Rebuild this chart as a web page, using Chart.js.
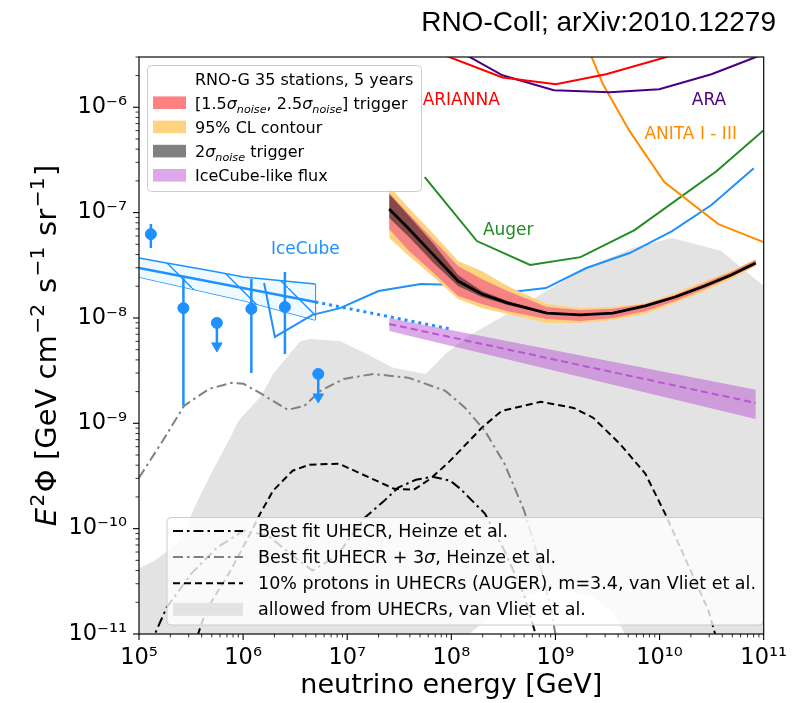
<!DOCTYPE html>
<html lang="en">
<head>
    <meta charset="UTF-8">
    <title>RNO-G diffuse flux sensitivity</title>
    <script src="https://cdn.jsdelivr.net/npm/chart.js"></script>
    <style>
        body { margin: 0; background: #ffffff; }
        .chart-box { width: 798px; height: 703px; }
    </style>
</head>
<body>
    <div class="chart-box"><canvas id="fluxChart"></canvas></div>
    <script>
        // Tick labels (decades)
        const xTickLabels = ['10⁵', '10⁶', '10⁷', '10⁸', '10⁹', '10¹⁰', '10¹¹'];
        const yTickLabels = ['10⁻¹¹', '10⁻¹⁰', '10⁻⁹', '10⁻⁸', '10⁻⁷', '10⁻⁶'];

        // Existing limits, E [GeV] / E^2 flux [GeV cm^-2 s^-1 sr^-1]
        const ariannaE = [5.1e7, 3.1e8, 1.01e9, 3.06e9, 1.06e10, 2.04e10];
        const ariannaF = [3.8e-6, 1.92e-6, 1.65e-6, 2.06e-6, 2.92e-6, 3.55e-6];
        const araE = [9.77e7, 3.1e8, 9.64e8, 3.33e9, 9.93e9, 3.15e10, 7.87e10, 1.16e11];
        const araF = [3.8e-6, 2.01e-6, 1.45e-6, 1.39e-6, 1.48e-6, 2.06e-6, 2.92e-6, 3.39e-6];
        const anitaE = [2.02e9, 2.86e9, 5.16e9, 1.11e10, 3.67e10, 1e11];
        const anitaF = [3.8e-6, 1.65e-6, 5.93e-7, 1.95e-7, 7.78e-8, 5.25e-8];
        const augerE = [5.55e7, 1.76e8, 5.71e8, 1.74e9, 5.75e9, 3.52e10, 1e11];
        const augerF = [2.17e-7, 5.37e-8, 3.18e-8, 3.78e-8, 6.82e-8, 2.47e-7, 6.05e-7];
        const icEheE = [1.59e6, 2.02e6, 4.63e6, 8.53e6, 2.0e7, 5.09e7, 1.27e8, 3.11e8, 8.09e8, 1.98e9, 5.16e9, 1.32e10, 3.15e10, 8.04e10];
        const icEheF = [2.15e-8, 6.61e-9, 1.07e-8, 1.24e-8, 1.8e-8, 2.1e-8, 2.05e-8, 1.73e-8, 1.92e-8, 2.98e-8, 4.13e-8, 6.68e-8, 1.18e-7, 2.64e-7];

        // IceCube diffuse fit (butterfly)
        const bflyTopE = [1e5, 1.84e5, 5.01e5, 1.01e6, 4.94e6];
        const bflyTopF = [3.71e-8, 3.32e-8, 2.79e-8, 2.45e-8, 2.1e-8];
        const bflyLowE = [1e5, 1.05e6, 4.94e6];
        const bflyLowF = [2.45e-8, 1.45e-8, 9.58e-9];
        const bflyBestE = [1e5, 4.94e6];
        const bflyBestF = [2.98e-8, 1.42e-8];
        const bflyExtE = [4.94e6, 9.77e7];
        const bflyExtF = [1.42e-8, 7.87e-9];

        // IceCube unfolded points and upper limits
        const icPointE = [1.30e5, 2.67e5, 1.20e6, 2.52e6];
        const icPointF = [6.25e-8, 1.24e-8, 1.22e-8, 1.27e-8];
        const icErrHi = [7.78e-8, 2.39e-8, 2.34e-8, 2.73e-8];
        const icErrLo = [4.61e-8, 1.47e-9, 3.01e-9, 4.56e-9];
        const icUlE = [5.60e5, 5.27e6];
        const icUlF = [8.97e-9, 2.94e-9];
        const icUlArrowF = [5.43e-9, 1.78e-9];

        // RNO-G 35 stations, 5 years
        const rnoE = [2.53e7, 3.92e7, 6.76e7, 1.16e8, 1.96e8, 3.46e8, 8.27e8, 1.74e9, 3.57e9, 7.31e9, 1.41e10, 2.70e10, 4.87e10, 8.39e10];
        const rnoF = [1.08e-7, 6.98e-8, 3.95e-8, 2.24e-8, 1.69e-8, 1.39e-8, 1.11e-8, 1.07e-8, 1.11e-8, 1.30e-8, 1.58e-8, 2.01e-8, 2.56e-8, 3.32e-8];
        const clTopF = [1.78e-7, 1.10e-7, 6.25e-8, 3.47e-8, 2.79e-8, 2.01e-8, 1.36e-8, 1.24e-8, 1.27e-8, 1.39e-8, 1.73e-8, 2.24e-8, 2.79e-8, 3.62e-8];
        const clLowF = [5.73e-8, 3.87e-8, 2.45e-8, 1.51e-8, 1.24e-8, 1.09e-8, 8.97e-9, 8.97e-9, 9.58e-9, 1.09e-8, 1.39e-8, 1.80e-8, 2.34e-8, 3.11e-8];
        const trigTopF = [1.53e-7, 9.67e-8, 5.48e-8, 3.11e-8, 2.34e-8, 1.80e-8, 1.27e-8, 1.19e-8, 1.22e-8, 1.36e-8, 1.65e-8, 2.15e-8, 2.73e-8, 3.55e-8];
        const trigLowF = [6.98e-8, 4.31e-8, 2.67e-8, 1.62e-8, 1.36e-8, 1.16e-8, 9.79e-9, 9.37e-9, 1.0e-8, 1.16e-8, 1.45e-8, 1.88e-8, 2.45e-8, 3.18e-8];
        const sig2TopF = [1.50e-7, 9.27e-8, 5.03e-8, 2.56e-8, 1.80e-8, 1.45e-8, 1.13e-8];
        const sig2LowF = [8.87e-8, 5.86e-8, 3.32e-8, 2.01e-8, 1.58e-8, 1.33e-8, 1.09e-8];

        // IceCube-like flux
        const icLikeE = [2.53e7, 8.39e10];
        const icLikeF = [8.77e-9, 1.56e-9];
        const icLikeTopF = [1.0e-8, 2.08e-9];
        const icLikeLowF = [7.53e-9, 1.10e-9];

        // UHECR models
        const bestFitE = [1.27e5, 1.84e5, 3.18e5, 5.60e5, 1.01e6, 1.74e6, 2.99e6, 4.63e6, 7.98e6, 1.47e7, 2.27e7, 3.08e7, 4.56e7, 6.61e7, 9.77e7, 1.22e8, 2.10e8, 3.24e8, 5.01e8, 6.95e8];
        const bestFitF = [7.8e-12, 1.78e-11, 3.74e-11, 6.61e-11, 9.57e-11, 8.59e-11, 5.55e-11, 4.0e-11, 5.55e-11, 1.27e-10, 1.84e-10, 2.45e-10, 2.91e-10, 3.11e-10, 2.85e-10, 2.39e-10, 1.39e-10, 6.18e-11, 2.32e-11, 7.8e-12];
        const bestFit3sE = [1e5, 1.69e5, 2.72e5, 4.70e5, 7.76e5, 1.01e6, 1.49e6, 2.69e6, 3.89e6, 5.51e6, 9.29e6, 1.79e7, 3.92e7, 8.77e7, 1.36e8, 2.10e8, 3.24e8, 5.01e8, 6.95e8, 8.65e8, 1.05e9];
        const bestFit3sF = [3.04e-10, 6.82e-10, 1.47e-9, 2.12e-9, 2.42e-9, 2.37e-9, 1.91e-9, 1.34e-9, 1.47e-9, 2.03e-9, 2.64e-9, 2.94e-9, 2.70e-9, 2.03e-9, 1.40e-9, 8.49e-10, 4.13e-10, 1.48e-10, 4.98e-11, 2.08e-11, 7.8e-12];
        const protonE = [3.39e5, 4.41e5, 7.59e5, 1.25e6, 1.46e6, 1.94e6, 2.99e6, 4.34e6, 8.34e6, 1.29e7, 2.82e7, 4.37e7, 6.32e7, 9.77e7, 1.96e8, 3.04e8, 7.26e8, 1.49e9, 2.30e9, 4.15e9, 7.31e9, 1.13e10, 1.75e10, 2.95e10, 3.67e10];
        const protonF = [7.8e-12, 1.67e-11, 4.0e-11, 1.02e-10, 1.39e-10, 2.29e-10, 3.55e-10, 4.05e-10, 4.13e-10, 3.40e-10, 2.39e-10, 2.34e-10, 2.98e-10, 4.42e-10, 9.06e-10, 1.31e-9, 1.60e-9, 1.40e-9, 1.13e-9, 6.40e-10, 3.32e-10, 1.39e-10, 5.31e-11, 1.67e-11, 7.8e-12];
        const allowedUpE = [1e5, 1.42e5, 2.55e5, 3.39e5, 4.91e5, 7.26e5, 9.04e5, 1.49e6, 1.94e6, 2.69e6, 3.56e6, 4.44e6, 8.53e6, 1.53e7, 2.77e7, 5.68e7, 8.77e7, 1.36e8, 5.01e8, 1.98e9, 5.51e9, 1.32e10, 3.92e10, 1e11];
        const allowedUpF = [4.18e-11, 4.98e-11, 7.69e-11, 1.58e-10, 3.32e-10, 6.82e-10, 1.06e-9, 1.82e-9, 2.94e-9, 4.36e-9, 6.05e-9, 6.32e-9, 6.05e-9, 4.56e-9, 3.36e-9, 2.94e-9, 4.56e-9, 6.46e-9, 1.36e-8, 2.98e-8, 4.61e-8, 5.73e-8, 4.31e-8, 2.01e-8];
        const allowedLowE = [1e5, 1.10e8, 1.51e8, 2.61e8, 5.01e8, 1.12e9, 2.31e9, 3.57e9, 4.62e9, 5.5e9, 1e11];
        const allowedLowF = [5e-12, 5e-12, 1.01e-11, 1.60e-11, 2.32e-11, 2.70e-11, 2.22e-11, 1.60e-11, 1.01e-11, 5e-12, 5e-12];

        Chart.defaults.font.family = '"DejaVu Sans"';

        const BLUE = '#1e90ff';
        const pts = (xs, ys) => xs.map((x, i) => ({ x: x, y: ys[i] }));
        const none = 'rgba(0,0,0,0)';

        function line(data, color, width, extra) {
            return Object.assign({ data: data, borderColor: color, borderWidth: width, pointRadius: 0, fill: false }, extra || {});
        }
        function band(data, color, order) {
            return { data: data, borderColor: none, borderWidth: 0, pointRadius: 0, fill: '+1', backgroundColor: color, order: order };
        }
        function edge(data, order) {
            return { data: data, borderColor: none, borderWidth: 0, pointRadius: 0, fill: false, order: order };
        }

        // hatch for the IceCube butterfly
        function makeHatch() {
            const c = document.createElement('canvas');
            c.width = 48; c.height = 48;
            const g = c.getContext('2d');
            g.fillStyle = '#eefaff';
            g.fillRect(0, 0, 48, 48);
            g.strokeStyle = BLUE;
            g.lineWidth = 1.4;
            g.beginPath();
            g.moveTo(-3, -3);
            g.lineTo(51, 51);
            g.stroke();
            return g.createPattern(c, 'repeat');
        }

        const dashDot = [10, 4, 2.5, 4];
        const lastTop = bflyTopE.length - 1, lastLow = bflyLowE.length - 1;

        const datasets = [
            // allowed region
            band(pts(allowedUpE, allowedUpF), '#e3e3e3', 50),
            edge(pts(allowedLowE, allowedLowF), 51),
            // UHECR models
            line(pts(bestFitE, bestFitF), '#000000', 2, { borderDash: dashDot, order: 40 }),
            line(pts(bestFit3sE, bestFit3sF), '#808080', 2, { borderDash: dashDot, order: 40 }),
            line(pts(protonE, protonF), '#000000', 2, { borderDash: [7, 4], order: 40 }),
            // IceCube butterfly
            line(pts(bflyTopE, bflyTopF), BLUE, 1.5, { fill: '+1', backgroundColor: makeHatch(), order: 30 }),
            line(pts(bflyLowE, bflyLowF), BLUE, 1.5, { order: 31 }),
            line([{ x: bflyTopE[lastTop], y: bflyTopF[lastTop] }, { x: bflyLowE[lastLow], y: bflyLowF[lastLow] }], BLUE, 1.5, { order: 30 }),
            line(pts(bflyBestE, bflyBestF), BLUE, 2.5, { order: 29 }),
            line(pts(bflyExtE, bflyExtF), BLUE, 3, { borderDash: [3, 4], order: 29 }),
            line(pts(icEheE, icEheF), BLUE, 2, { order: 29 }),
            // other experiments
            line(pts(ariannaE, ariannaF), '#ff0000', 2, { order: 20 }),
            line(pts(araE, araF), '#4b0082', 2, { order: 20 }),
            line(pts(anitaE, anitaF), '#ff8c00', 2, { order: 20 }),
            line(pts(augerE, augerF), '#228b22', 2, { order: 20 }),
            // IceCube-like flux
            band(pts(icLikeE, icLikeTopF), 'rgba(186,85,211,0.5)', 15),
            edge(pts(icLikeE, icLikeLowF), 16),
            line(pts(icLikeE, icLikeF), '#ba55d3', 2, { borderDash: [7, 4], order: 14 }),
            // RNO-G bands
            band(pts(rnoE, clTopF), '#ffd280', 12),
            edge(pts(rnoE, clLowF), 13),
            band(pts(rnoE, trigTopF), '#f58383', 10),
            edge(pts(rnoE, trigLowF), 11),
            band(pts(rnoE.slice(0, sig2TopF.length), sig2TopF), 'rgba(0,0,0,0.45)', 8),
            edge(pts(rnoE.slice(0, sig2LowF.length), sig2LowF), 9),
            line(pts(rnoE, rnoF), '#000000', 2.8, { order: 7 })
        ];

        // IceCube error bars, points and upper limits
        icPointE.forEach((e, i) => {
            datasets.push(line([{ x: e, y: icErrLo[i] }, { x: e, y: icErrHi[i] }], BLUE, 2.5, { order: 3 }));
        });
        icUlE.forEach((e, i) => {
            datasets.push(line([{ x: e, y: icUlF[i] }, { x: e, y: icUlArrowF[i] }], BLUE, 2.5, { order: 3 }));
        });
        datasets.push({ data: pts(icPointE, icPointF), showLine: false, pointRadius: 5.5, pointBackgroundColor: BLUE, pointBorderColor: BLUE, order: 2 });
        datasets.push({ data: pts(icUlE, icUlF), showLine: false, pointRadius: 5.5, pointBackgroundColor: BLUE, pointBorderColor: BLUE, order: 2 });
        datasets.push({ data: pts(icUlE, icUlArrowF), showLine: false, pointStyle: 'triangle', rotation: 180, pointRadius: 6, pointBackgroundColor: BLUE, pointBorderColor: BLUE, order: 2 });

        function decadeTicks(min, max) {
            const t = [];
            for (let e = Math.floor(Math.log10(min)); e <= Math.ceil(Math.log10(max)); e++) {
                for (let m = 1; m < 10; m++) {
                    const v = m * Math.pow(10, e);
                    if (v >= min * 0.999 && v <= max * 1.001) t.push({ value: v, major: m === 1 });
                }
            }
            return t;
        }
        function decadeLabel(v, labels, first) {
            const e = Math.round(Math.log10(v));
            if (Math.abs(v / Math.pow(10, e) - 1) > 1e-6) return '';
            return labels[e - first] || '';
        }

        // text with italics / sub / superscripts
        function richText(ctx, x, y, parts, size, align, supGap) {
            const gap = supGap || 0;
            const fontFor = k => {
                const s = (k === 'sub' || k === 'sup') ? size * 0.7 : size;
                return ((k === 'i' || k === 'sub') ? 'italic ' : '') + s + 'px "DejaVu Sans"';
            };
            const adv = p => { ctx.font = fontFor(p[1]); return ctx.measureText(p[0]).width + (p[1] === 'sup' ? gap : 0); };
            let w = 0;
            parts.forEach(p => { w += adv(p); });
            let cx = align === 'right' ? x - w : (align === 'center' ? x - w / 2 : x);
            ctx.textAlign = 'left';
            ctx.textBaseline = 'alphabetic';
            parts.forEach(p => {
                const a = adv(p);
                const dy = p[1] === 'sub' ? size * 0.25 : (p[1] === 'sup' ? -size * 0.4 : 0);
                ctx.fillText(p[0], cx + (p[1] === 'sup' ? gap / 2 : 0), y + dy);
                cx += a;
            });
        }

        function legendBox(ctx, x, y, w, h) {
            ctx.beginPath();
            ctx.roundRect(x, y, w, h, 4);
            ctx.fillStyle = 'rgba(255,255,255,0.8)';
            ctx.fill();
            ctx.strokeStyle = '#cccccc';
            ctx.lineWidth = 1;
            ctx.stroke();
        }

        const whiteBg = {
            id: 'whiteBg',
            beforeDraw(chart) {
                const ctx = chart.ctx;
                ctx.save();
                ctx.fillStyle = '#ffffff';
                ctx.fillRect(0, 0, chart.width, chart.height);
                ctx.restore();
            }
        };

        const decorations = {
            id: 'decorations',
            afterDatasetsDraw(chart) {
                const ctx = chart.ctx, xs = chart.scales.x, ys = chart.scales.y;
                ctx.save();

                // curve labels
                ctx.font = '17px "DejaVu Sans"';
                ctx.textAlign = 'left';
                ctx.textBaseline = 'middle';
                [['ARIANNA', '#ff0000', 5.3e7, 1.16e-6], ['ARA', '#4b0082', 2.04e10, 1.16e-6],
                 ['ANITA I - III', '#ff8c00', 7.16e9, 5.54e-7], ['Auger', '#228b22', 2.01e8, 6.68e-8],
                 ['IceCube', BLUE, 1.85e6, 4.42e-8]].forEach(l => {
                    ctx.fillStyle = l[1];
                    ctx.fillText(l[0], xs.getPixelForValue(l[2]), ys.getPixelForValue(l[3]));
                });

                // upper legend
                legendBox(ctx, 147.5, 65.5, 274, 126);
                const topRows = [
                    [null, [['RNO-G 35 stations, 5 years', 'n']]],
                    ['#ff8080', [['[1.5', 'n'], ['σ', 'i'], ['noise', 'sub'], [', 2.5', 'n'], ['σ', 'i'], ['noise', 'sub'], ['] trigger', 'n']]],
                    ['#ffd280', [['95% CL contour', 'n']]],
                    ['#808080', [['2', 'n'], ['σ', 'i'], ['noise', 'sub'], [' trigger', 'n']]],
                    ['#dcaae9', [['IceCube-like flux', 'n']]]
                ];
                topRows.forEach((r, i) => {
                    const cy = 78.5 + i * 24.2;
                    if (r[0]) { ctx.fillStyle = r[0]; ctx.fillRect(153, cy - 6.3, 33, 12.6); }
                    ctx.fillStyle = '#000000';
                    richText(ctx, 195, cy + 6, r[1], 16, 'left');
                });

                // lower legend
                legendBox(ctx, 167, 517.5, 596, 107.5);
                const lowRows = [
                    ['#000000', dashDot, [['Best fit UHECR, Heinze et al.', 'n']]],
                    ['#808080', dashDot, [['Best fit UHECR + 3', 'n'], ['σ', 'i'], [', Heinze et al.', 'n']]],
                    ['#000000', [7, 4], [['10% protons in UHECRs (AUGER), m=3.4, van Vliet et al.', 'n']]],
                    [null, null, [['allowed from UHECRs, van Vliet et al.', 'n']]]
                ];
                lowRows.forEach((r, i) => {
                    const cy = 531 + i * 26.1;
                    if (r[0]) {
                        ctx.strokeStyle = r[0];
                        ctx.lineWidth = 2;
                        ctx.setLineDash(r[1]);
                        ctx.beginPath();
                        ctx.moveTo(173, cy);
                        ctx.lineTo(243, cy);
                        ctx.stroke();
                        ctx.setLineDash([]);
                    } else {
                        ctx.fillStyle = '#e3e3e3';
                        ctx.fillRect(173, cy - 6.5, 70, 13);
                    }
                    ctx.fillStyle = '#000000';
                    richText(ctx, 258, cy + 6, r[2], 17.5, 'left');
                });
                ctx.restore();
            },
            afterDraw(chart) {
                const ctx = chart.ctx, a = chart.chartArea, xs = chart.scales.x, ys = chart.scales.y;
                ctx.save();
                // frame
                ctx.strokeStyle = '#1a1a1a';
                ctx.lineWidth = 1.3;
                ctx.strokeRect(a.left, a.top, a.right - a.left, a.bottom - a.top);
                // ticks
                ctx.strokeStyle = '#000000';
                xs.ticks.forEach(t => {
                    const p = xs.getPixelForValue(t.value);
                    ctx.lineWidth = t.major ? 1.1 : 0.8;
                    ctx.beginPath();
                    ctx.moveTo(p, a.bottom);
                    ctx.lineTo(p, a.bottom + (t.major ? 6 : 3.5));
                    ctx.stroke();
                });
                ys.ticks.forEach(t => {
                    const p = ys.getPixelForValue(t.value);
                    ctx.lineWidth = t.major ? 1.1 : 0.8;
                    ctx.beginPath();
                    ctx.moveTo(a.left, p);
                    ctx.lineTo(a.left - (t.major ? 6 : 3.5), p);
                    ctx.stroke();
                });
                // axis titles
                ctx.fillStyle = '#000000';
                richText(ctx, (a.left + a.right) / 2, 693, [['neutrino energy [GeV]', 'n']], 27, 'center');
                ctx.translate(56, (a.top + a.bottom) / 2);
                ctx.rotate(-Math.PI / 2);
                richText(ctx, 0, 0, [['E', 'i'], ['2', 'sup'], ['Φ [GeV cm', 'n'], ['−2', 'sup'], [' s', 'n'], ['−1', 'sup'], [' sr', 'n'], ['−1', 'sup'], [']', 'n']], 29, 'center', 3);
                ctx.restore();
                // title
                ctx.save();
                ctx.fillStyle = '#000000';
                ctx.font = '28px "Liberation Sans"';
                ctx.textAlign = 'right';
                ctx.textBaseline = 'alphabetic';
                ctx.fillText('RNO-Coll; arXiv:2010.12279', 776, 31);
                ctx.restore();
            }
        };

        new Chart(document.getElementById('fluxChart'), {
            type: 'line',
            data: { datasets: datasets },
            options: {
                responsive: true,
                maintainAspectRatio: false,
                animation: false,
                events: [],
                layout: { padding: { top: 57, right: 25, left: 0, bottom: 0 } },
                plugins: { legend: { display: false }, tooltip: { enabled: false } },
                datasets: { line: { clip: 0, tension: 0 } },
                scales: {
                    x: {
                        type: 'logarithmic',
                        min: 1e5,
                        max: 1e11,
                        grid: { display: false, drawTicks: false },
                        border: { display: false },
                        afterBuildTicks: s => { s.ticks = decadeTicks(s.min, s.max); },
                        afterFit: s => { s.height = 69; },
                        ticks: {
                            autoSkip: false, maxRotation: 0, minRotation: 0, padding: 11,
                            color: '#000000', font: { size: 22.5 },
                            callback: v => decadeLabel(v, xTickLabels, 5)
                        }
                    },
                    y: {
                        type: 'logarithmic',
                        min: 1e-11,
                        max: 3e-6,
                        grid: { display: false, drawTicks: false },
                        border: { display: false },
                        afterBuildTicks: s => { s.ticks = decadeTicks(s.min, s.max); },
                        afterFit: s => { s.width = 139; },
                        ticks: {
                            autoSkip: false, padding: 12,
                            color: '#000000', font: { size: 22.5 },
                            callback: v => decadeLabel(v, yTickLabels, -11)
                        }
                    }
                }
            },
            plugins: [whiteBg, decorations]
        });
    </script>
</body>
</html>
